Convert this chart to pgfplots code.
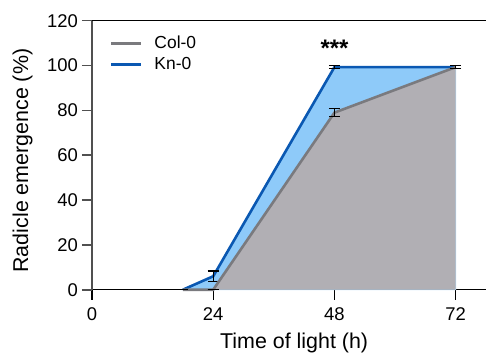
\documentclass[border=0pt]{standalone}
\usepackage{pgfplots}
\pgfplotsset{compat=1.18}
\usepackage{fontspec}
\setmainfont{Liberation Sans}

\definecolor{colfill}{RGB}{177,175,180}
\definecolor{colline}{RGB}{122,122,126}
\definecolor{knfill}{RGB}{142,202,249}
\definecolor{knline}{RGB}{10,88,178}
\definecolor{yaxisgray}{RGB}{80,80,80}

\newcommand{\tickfont}{\fontsize{18.5}{20}\selectfont}

\begin{document}
\begin{tikzpicture}
\begin{axis}[
  name=ax,
  scale only axis,
  width=394bp, height=269bp,
  xmin=0, xmax=78, ymin=0, ymax=120,
  axis lines=left,
  axis line style={-},
  x axis line style={black, line width=1.4bp},
  y axis line style={yaxisgray, line width=2.4bp},
  xtick={0,24,48,72},
  ytick={0,20,40,60,80,100,120},
  tick align=outside,
  major tick length=10bp,
  x tick style={black, line width=1.4bp},
  y tick style={yaxisgray, line width=1.6bp},
  /pgf/number format/assume math mode=true,
  xticklabel style={font=\tickfont, inner sep=7.5bp},
  yticklabel style={font=\tickfont, inner sep=4bp},
  xlabel={Time of light (h)},
  ylabel={Radicle emergence (\%)},
  label style={font=\fontsize{21.5}{24}\selectfont},
  xlabel style={at={(axis description cs:0.513,0)}, anchor=north, yshift=-40bp},
  ylabel style={at={(axis description cs:0,0.48)}, anchor=south, yshift=56bp},
  legend style={draw=none, fill=none, at={(axis cs:3.5,114)}, anchor=north west,
    font=\fontsize{17.5}{20}\selectfont, row sep=3bp, inner sep=0pt,
    /tikz/every odd column/.style={column sep=10bp}},
  legend cell align=left,
  legend image code/.code={\draw[#1, line width=2.6bp] (0bp,0bp) -- (30bp,0bp);},
  clip=false,
]
% filled areas
\addplot[draw=knfill!70!white, line width=0.8bp, fill=knfill, forget plot]
  coordinates {(18,0) (24,6) (48,99.3) (72,99.3)} \closedcycle;
\addplot[draw=none, fill=colfill, forget plot]
  coordinates {(18,0) (24,0) (48,79) (72,99.3)} \closedcycle;
% mean curves with SEM bars
\addplot[knline, line width=2.6bp, forget plot,
  error bars/.cd, y dir=both, y explicit,
  error bar style={black, line width=1.2bp},
  error mark options={black, line width=1.2bp, mark size=5.5bp, rotate=90}]
  coordinates {(18,0) +- (0,0) (24,6) +- (0,2.3) (48,99.3) +- (0,0.6) (72,99.3) +- (0,0.6)};
\addplot[colline, line width=2.6bp, forget plot,
  error bars/.cd, y dir=both, y explicit,
  error bar style={black, line width=1.2bp},
  error mark options={black, line width=1.2bp, mark size=5.5bp, rotate=90}]
  coordinates {(18,0) +- (0,0) (24,0) +- (0,0) (48,79) +- (0,1.7) (72,99.3) +- (0,0.6)};
\addlegendimage{colline}
\addlegendentry{Col-0}
\addlegendimage{knline}
\addlegendentry{Kn-0}
% top frame line
\draw[black, line width=1.4bp] (rel axis cs:0,1) -- (rel axis cs:1,1);
\node[font=\fontsize{24}{24}\selectfont\bfseries] at (axis cs:48,107.5) {***};
\end{axis}
\pgfresetboundingbox
\path ([xshift=-92bp,yshift=-68bp]ax.south west) rectangle ([yshift=20.7bp]ax.north east);
\end{tikzpicture}
\end{document}
